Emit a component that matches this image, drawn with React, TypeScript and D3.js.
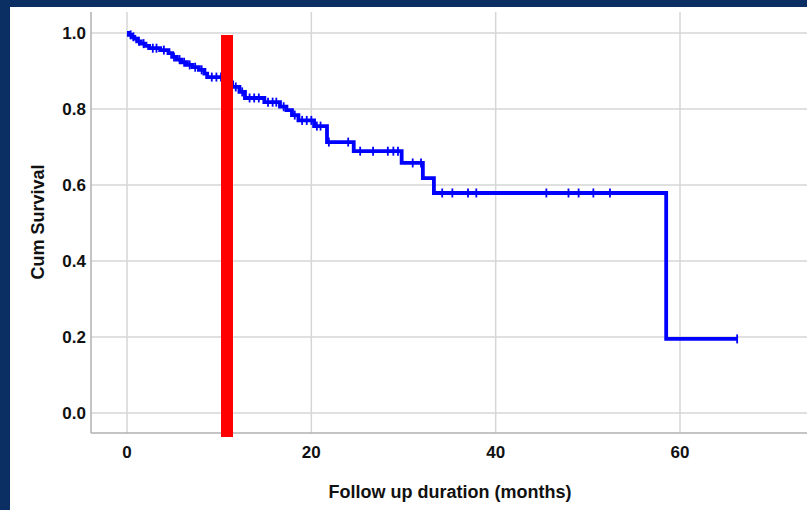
import React from 'react';
import * as d3 from 'd3';

// Kaplan-Meier steps: month at which the curve drops, and the survival after the drop
const eventMonths = [0, 0.2, 0.5, 0.8, 1.1, 1.5, 2.0, 2.4, 3.6, 4.5, 4.9, 5.4, 5.9, 6.5, 7.1, 7.8, 8.4, 8.7,
  10.7, 11.4, 12.2, 12.8, 14.9, 16.6, 17.3, 17.9, 18.6, 20.3, 21.7, 24.6, 29.8, 32.1, 33.3, 58.5];
const cumSurvival = [1.0, 0.995, 0.99, 0.985, 0.978, 0.972, 0.966, 0.96, 0.955, 0.947, 0.937, 0.93, 0.923, 0.916, 0.91, 0.903, 0.893, 0.884,
  0.87, 0.858, 0.845, 0.829, 0.818, 0.806, 0.797, 0.784, 0.77, 0.755, 0.713, 0.689, 0.658, 0.618, 0.579, 0.195];
const lastFollowUp = 66.2;

// censored cases (+ marks)
const censoredMonths = [0.4, 0.7, 1.3, 1.8, 2.8, 3.2, 4.0, 5.1, 5.7, 6.2, 6.8, 7.4, 8.1, 9.2, 9.7, 10.2,
  11.8, 12.5, 13.3, 13.8, 14.3, 15.3, 15.8, 16.2, 17.0, 18.2, 19.0, 19.5, 20.0, 20.6, 21.0,
  21.9, 24.0, 25.3, 26.7, 28.3, 28.9, 29.4, 31.0, 31.9, 34.2, 35.3, 37.0, 37.9,
  45.5, 47.9, 49.0, 50.6, 52.4, 66.2];

const xTicks = [0, 20, 40, 60];
const yTicks = [0, 0.2, 0.4, 0.6, 0.8, 1.0];
const markerMonth = 10.85;

const W = 807;
const H = 510;
const left = 91;
const right = 807;
const top = 12;
const bottom = 433;

function survivalAt(t) {
  let s = 1;
  for (let i = 0; i < eventMonths.length; i++) {
    if (eventMonths[i] <= t) s = cumSurvival[i];
  }
  return s;
}

export default function App() {
  const x = d3.scaleLinear().domain([0, 60]).range([127, 680]);
  const y = d3.scaleLinear().domain([0, 1]).range([413, 33]);

  const pts = eventMonths.map((m, i) => [m, cumSurvival[i]]);
  pts.push([lastFollowUp, cumSurvival[cumSurvival.length - 1]]);
  const line = d3.line().x(d => x(d[0])).y(d => y(d[1])).curve(d3.curveStepAfter);

  const font = "'Liberation Sans', Arial, sans-serif";

  return (
    <svg width={W} height={H} style={{ position: 'absolute', left: 0, top: 0, display: 'block' }}>
      <rect x={0} y={0} width={W} height={H} fill="#ffffff" />
      <rect x={0} y={0} width={W} height={7} fill="#0b2f63" />
      <rect x={0} y={0} width={10} height={H} fill="#0b2f63" />

      {/* grid */}
      {yTicks.map(t => (
        <line key={'gy' + t} x1={left} x2={right} y1={y(t)} y2={y(t)} stroke="#d6d6d6" strokeWidth={1.5} />
      ))}
      {xTicks.map(t => (
        <line key={'gx' + t} x1={x(t)} x2={x(t)} y1={top} y2={bottom} stroke="#d6d6d6" strokeWidth={1.5} />
      ))}

      {/* axes */}
      <line x1={left} x2={left} y1={top} y2={bottom} stroke="#b0b0b0" strokeWidth={1.5} />
      <line x1={left} x2={right} y1={bottom} y2={bottom} stroke="#b0b0b0" strokeWidth={1.5} />

      {yTicks.map(t => (
        <text key={'ty' + t} x={86} y={y(t)} dy="0.36em" textAnchor="end" fontFamily={font}
          fontWeight="bold" fontSize={17} fill="#111">{d3.format('.1f')(t)}</text>
      ))}
      {xTicks.map(t => (
        <text key={'tx' + t} x={x(t)} y={458} textAnchor="middle" fontFamily={font}
          fontWeight="bold" fontSize={17} fill="#111">{t}</text>
      ))}

      <text x={450} y={498} textAnchor="middle" fontFamily={font} fontWeight="bold" fontSize={18} fill="#111">
        Follow up duration (months)
      </text>
      <text transform="translate(44,222) rotate(-90)" textAnchor="middle" fontFamily={font}
        fontWeight="bold" fontSize={18} fill="#111">Cum Survival</text>

      {/* survival curve */}
      <path d={line(pts)} fill="none" stroke="#0000ff" strokeWidth={3.8} strokeLinejoin="miter" />
      {censoredMonths.map((m, i) => (
        <line key={'c' + i} x1={x(m)} x2={x(m)} y1={y(survivalAt(m)) - 4.5} y2={y(survivalAt(m)) + 4.5}
          stroke="#0000ff" strokeWidth={1.8} />
      ))}

      {/* red marker */}
      <rect x={x(markerMonth) - 6} y={35} width={12} height={bottom + 4 - 35} fill="#ff0000" />
    </svg>
  );
}
